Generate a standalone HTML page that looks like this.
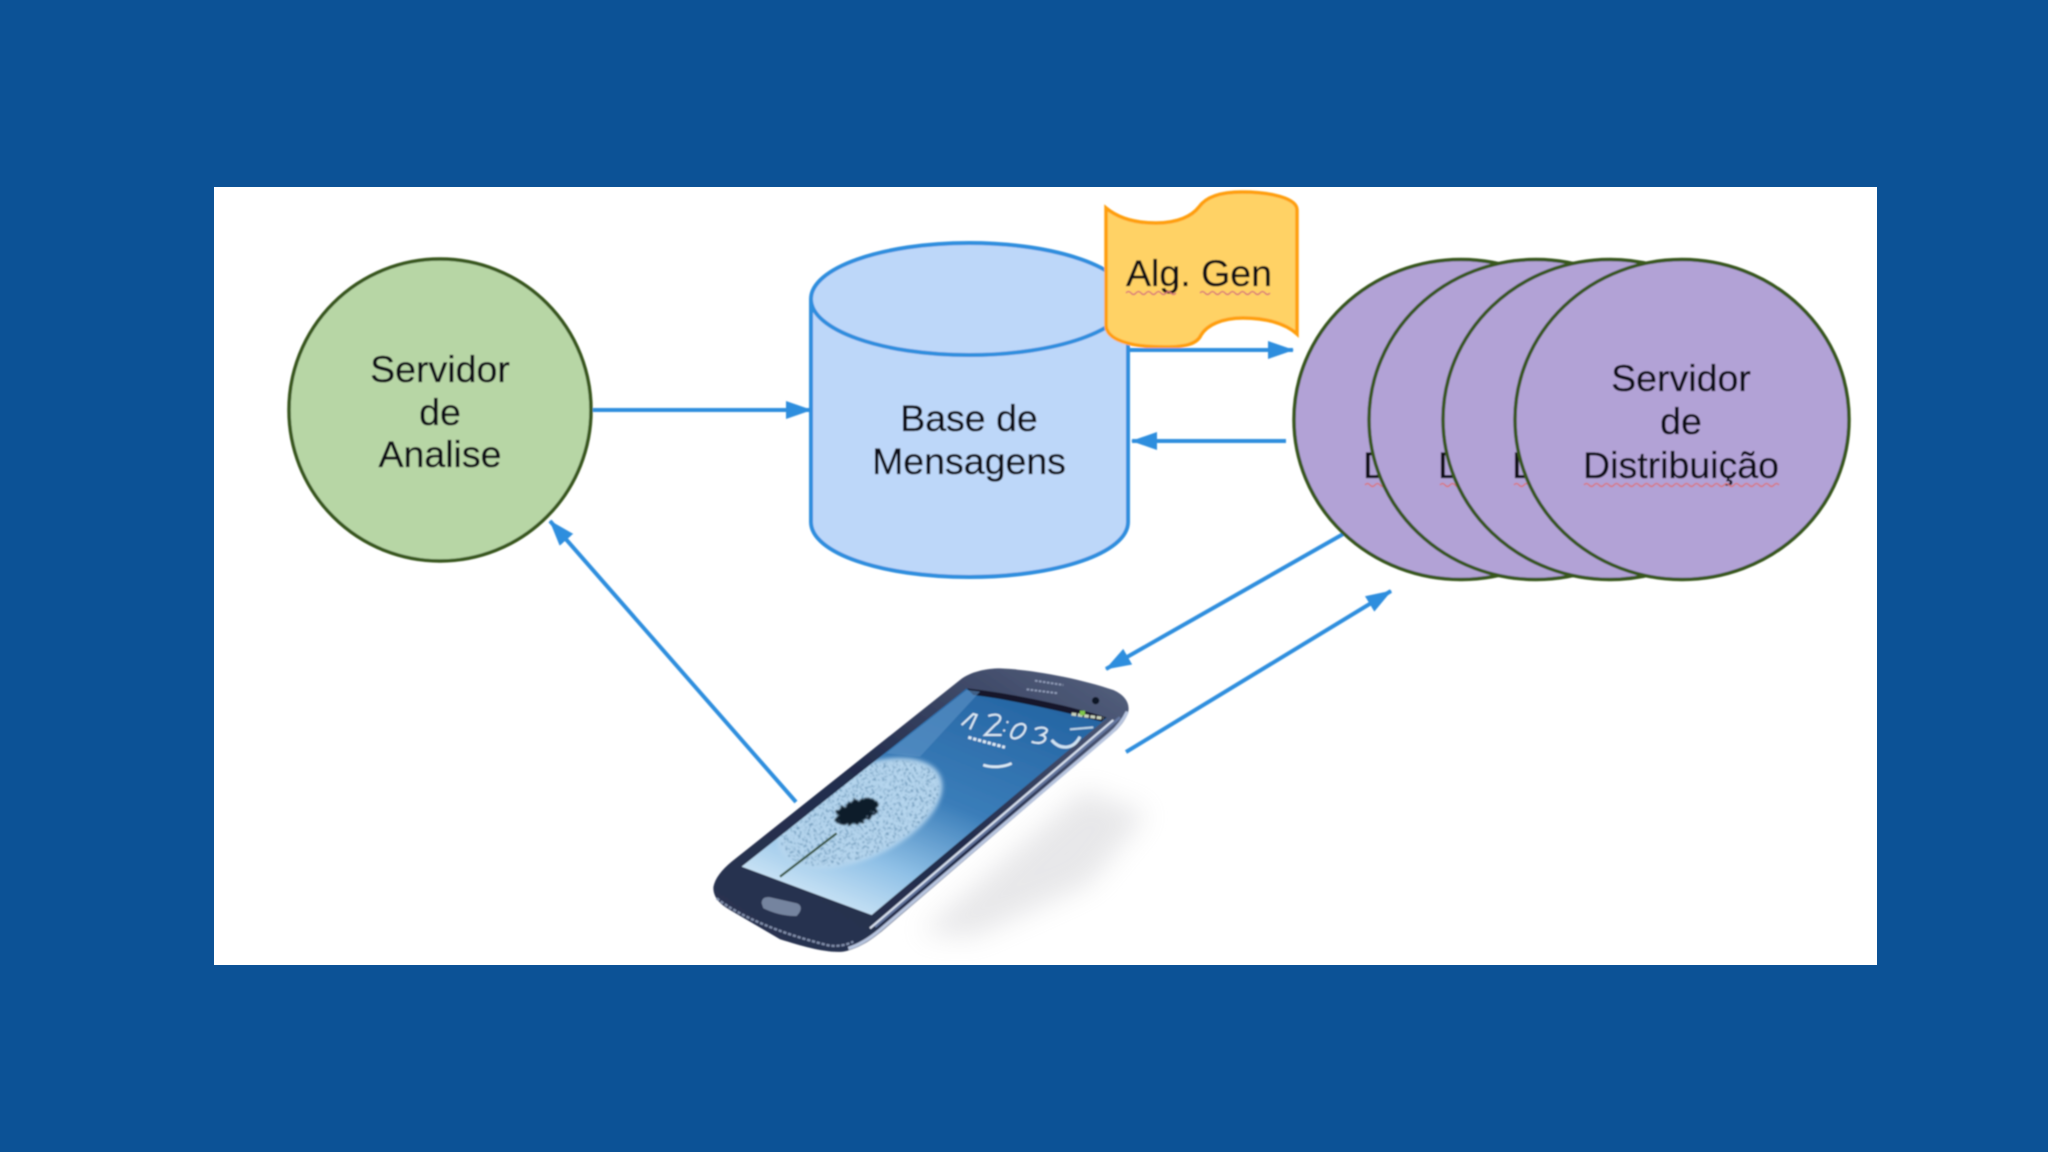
<!DOCTYPE html>
<html>
<head>
<meta charset="utf-8">
<style>
html,body{margin:0;padding:0;background:#0c5296;width:2048px;height:1152px;overflow:hidden}
svg{display:block}
text{font-family:"Liberation Sans",sans-serif;font-size:37.5px;fill:#0d0d18;stroke:#0d0d18;stroke-width:.35px;text-anchor:middle}
</style>
</head>
<body>
<svg width="2048" height="1152" viewBox="0 0 2048 1152" xmlns="http://www.w3.org/2000/svg">
<defs>
<filter id="b" x="-5%" y="-5%" width="110%" height="110%"><feGaussianBlur stdDeviation="0.7"/></filter>
<filter id="s" x="-30%" y="-30%" width="160%" height="160%"><feGaussianBlur stdDeviation="40"/></filter>
<filter id="p" x="-10%" y="-10%" width="120%" height="120%"><feGaussianBlur stdDeviation="2.2"/></filter>
<filter id="d" x="-30%" y="-30%" width="160%" height="160%"><feGaussianBlur stdDeviation="7"/></filter>
<filter id="sp" x="-5%" y="-5%" width="110%" height="110%">
<feTurbulence type="fractalNoise" baseFrequency=".14" numOctaves="2" seed="4" result="n"/>
<feColorMatrix in="n" type="matrix" values="0 0 0 0 .09  0 0 0 0 .22  0 0 0 0 .38  5 0 0 0 -2.6" result="dots"/>
<feComposite in="dots" in2="SourceAlpha" operator="in" result="cut"/>
<feGaussianBlur in="cut" stdDeviation="1.2"/>
</filter>
<filter id="core" x="-40%" y="-40%" width="180%" height="180%">
<feTurbulence type="fractalNoise" baseFrequency=".09" numOctaves="2" seed="7" result="n"/>
<feDisplacementMap in="SourceGraphic" in2="n" scale="34"/>
<feGaussianBlur stdDeviation="2.5"/>
</filter>
<marker id="ah" markerUnits="userSpaceOnUse" markerWidth="26" markerHeight="20" refX="25" refY="10" orient="auto">
<path d="M0 1 L26 10 L0 19 Z" fill="#2e8ede"/>
</marker>
<linearGradient id="scr" x1="0.12" y1="1" x2="0.78" y2="0">
<stop offset="0" stop-color="#e2f2fc"/><stop offset=".28" stop-color="#8fc0e6"/><stop offset=".55" stop-color="#3a7db9"/><stop offset="1" stop-color="#2464a2"/>
</linearGradient>
<linearGradient id="body" x1="0" y1="1" x2="1" y2="0">
<stop offset="0" stop-color="#2a3350"/><stop offset=".5" stop-color="#222c4c"/><stop offset="1" stop-color="#56627f"/>
</linearGradient>
<clipPath id="sc"><path d="M185 680 L860 145 L1280 235 L575 825 Z"/></clipPath>
</defs>

<rect width="2048" height="1152" fill="#0c5296"/>
<rect x="214" y="187" width="1663" height="778" fill="#fff"/>

<g filter="url(#b)">
<circle cx="440" cy="410" r="151" fill="#b7d6a5" stroke="#38571f" stroke-width="3.5"/>
<text x="440" y="382">Servidor</text>
<text x="440" y="425">de</text>
<text x="440" y="467">Analise</text>

<path d="M811 299 V522 C811 553 882 577 969 577 C1056 577 1128 553 1128 522 V299 C1128 268 1056 243 969 243 C882 243 811 268 811 299 Z" fill="#bdd7f9" stroke="#2e8ede" stroke-width="4"/>
<path d="M811 299 C811 330 882 355 969 355 C1056 355 1128 330 1128 299" fill="none" stroke="#2e8ede" stroke-width="4"/>
<text x="969" y="431">Base de</text>
<text x="969" y="474">Mensagens</text>

<path d="M1106 208 C1118 218 1135 223 1156 223 C1178 223 1192 216 1199 207 C1206 197 1220 192 1242 192 C1270 192 1297 198 1297 210 V334 C1285 323 1265 318 1243 318 C1222 318 1207 325 1201 335 C1197 344 1185 347 1165 347 C1130 347 1106 340 1106 325 Z" fill="#ffd265" stroke="#ff9f10" stroke-width="3.5"/>
<text x="1199" y="286">Alg. Gen</text>
<path d="M1126 293 q2.5 -3 5 0 t5 0 t5 0 t5 0 t5 0 t5 0 t5 0 t5 0 t5 0 t5 0 M1200 293 q2.5 -3 5 0 t5 0 t5 0 t5 0 t5 0 t5 0 t5 0 t5 0 t5 0 t5 0 t5 0 t5 0 t5 0 t5 0" fill="none" stroke="#d9747a" stroke-width="1.4"/>

<g stroke="#2e8ede" stroke-width="4" fill="none">
<line x1="593" y1="410" x2="811" y2="410" marker-end="url(#ah)"/>
<line x1="1128" y1="350" x2="1293" y2="350" marker-end="url(#ah)"/>
<line x1="1286" y1="441" x2="1132" y2="441" marker-end="url(#ah)"/>
<line x1="1345" y1="533" x2="1106" y2="669" marker-end="url(#ah)"/>
<line x1="1126" y1="752" x2="1391" y2="591" marker-end="url(#ah)"/>
<line x1="796" y1="802" x2="550" y2="521" marker-end="url(#ah)"/>
</g>

<g>
<ellipse cx="1461" cy="419.5" rx="167" ry="160" fill="#b2a2d6" stroke="#38571f" stroke-width="3.5"/>
<text x="1461" y="478">Distribuição</text>
<path d="M1365 485 q2.5 -3 5 0 t5 0 t5 0 t5 0 t5 0" fill="none" stroke="#d9747a" stroke-width="1.4"/>
</g>
<g>
<ellipse cx="1536" cy="419.5" rx="167" ry="160" fill="#b2a2d6" stroke="#38571f" stroke-width="3.5"/>
<text x="1536" y="478">Distribuição</text>
<path d="M1440 485 q2.5 -3 5 0 t5 0 t5 0 t5 0 t5 0" fill="none" stroke="#d9747a" stroke-width="1.4"/>
</g>
<g>
<ellipse cx="1610" cy="419.5" rx="167" ry="160" fill="#b2a2d6" stroke="#38571f" stroke-width="3.5"/>
<text x="1610" y="478">Distribuição</text>
<path d="M1514 485 q2.5 -3 5 0 t5 0 t5 0 t5 0 t5 0" fill="none" stroke="#d9747a" stroke-width="1.4"/>
</g>
<ellipse cx="1682" cy="419.5" rx="167" ry="160" fill="#b2a2d6" stroke="#38571f" stroke-width="3.5"/>
<text x="1681" y="391">Servidor</text>
<text x="1681" y="434">de</text>
<text x="1681" y="478">Distribuição</text>
<path d="M1584 485 q2.5 -3 5 0 t5 0 t5 0 t5 0 t5 0 t5 0 t5 0 t5 0 t5 0 t5 0 t5 0 t5 0 t5 0 t5 0 t5 0 t5 0 t5 0 t5 0 t5 0 t5 0 t5 0 t5 0 t5 0 t5 0 t5 0 t5 0 t5 0 t5 0 t5 0 t5 0 t5 0 t5 0 t5 0 t5 0 t5 0 t5 0 t5 0 t5 0 t5 0" fill="none" stroke="#d9747a" stroke-width="1.4"/>
</g>

<!-- Phone -->
<g transform="translate(680 640) scale(.3333)">
<path d="M720 880 L1210 450 L1400 520 L1230 730 L880 890 Z" fill="#c8c8cc" opacity=".42" filter="url(#s)"/>
<g filter="url(#p)">
<path d="M100 742 C105 715 125 690 155 665 L840 120 C870 95 920 85 960 85 C1050 88 1200 115 1300 150 C1335 165 1350 190 1345 215 C1340 235 1325 255 1310 270 L610 870 C580 895 540 925 490 935 C440 940 370 920 300 898 L150 810 C115 790 100 770 100 742 Z" fill="url(#body)"/>
<path d="M1342 215 C1330 240 1310 265 1290 282 L600 870 C570 895 540 915 505 925" fill="none" stroke="#b7c4de" stroke-width="10"/>
<path d="M1320 232 L585 860" fill="none" stroke="#64769f" stroke-width="8"/>
<path d="M1300 240 L570 865" fill="none" stroke="#d9e2f1" stroke-width="6"/>
<path d="M110 775 C180 830 300 880 440 915 C470 922 500 915 520 905" fill="none" stroke="#7f8ca8" stroke-width="7" stroke-dasharray="10 5"/>
<path d="M185 680 L860 145 L1280 235 L575 825 Z" fill="url(#scr)"/>
<path d="M860 145 C1000 160 1180 200 1280 232 L1265 245 C1150 215 1000 180 880 165 Z" fill="#15182a"/>
<path d="M620 340 L860 150 L900 155 L720 350 Z" fill="#5d93c6" opacity=".6"/>
<g clip-path="url(#sc)">
<ellipse cx="540" cy="520" rx="265" ry="135" transform="rotate(-25 540 520)" fill="#b6d6ee" filter="url(#d)"/>
<ellipse cx="540" cy="520" rx="255" ry="128" transform="rotate(-25 540 520)" fill="#000" filter="url(#sp)" opacity=".75"/>
<ellipse cx="530" cy="515" rx="68" ry="34" transform="rotate(-22 530 515)" fill="#0e1c2a" filter="url(#core)"/>
<line x1="300" y1="710" x2="470" y2="580" stroke="#3d5a4a" stroke-width="7"/>
</g>
<path d="M245 790 C245 775 255 770 270 772 L350 790 C365 795 368 810 350 828 C320 830 280 820 250 805 Z" fill="#75849f"/>
<path d="M1065 122 L1150 135 M1040 148 L1135 160" stroke="#8d99b5" stroke-width="6" stroke-dasharray="8 4"/>
<circle cx="1247" cy="182" r="11" fill="#101626"/>
<path d="M1175 222 L1270 235" stroke="#ccd6c0" stroke-width="9" stroke-dasharray="14 5"/>
<rect x="1200" y="212" width="15" height="14" fill="#7fc64a"/>
<path d="M1115 300 C1140 330 1180 330 1200 290" fill="none" stroke="#cfe3f3" stroke-width="9"/>
<path d="M910 375 C940 385 975 380 995 370" fill="none" stroke="#dcebf6" stroke-width="8"/>
<path d="M1170 268 L1240 262" stroke="#bcd4e8" stroke-width="6"/>
<g fill="none" stroke="#dcebf6" stroke-width="6">
<path d="M845 255 L880 222 L890 225 L870 268"/>
<path d="M925 228 C960 215 975 235 945 255 L915 285 L965 285"/>
<path d="M980 245 L985 248 M970 270 L975 273"/>
<path d="M1005 260 C1020 245 1050 250 1030 280 C1010 305 975 300 1005 260 Z"/>
<path d="M1065 268 C1090 255 1120 270 1085 285 C1110 290 1090 320 1055 305"/>
<path d="M865 292 L975 322" stroke-width="9" stroke-dasharray="10 5"/>
</g>
</g>
</g>
</svg>
</body>
</html>
